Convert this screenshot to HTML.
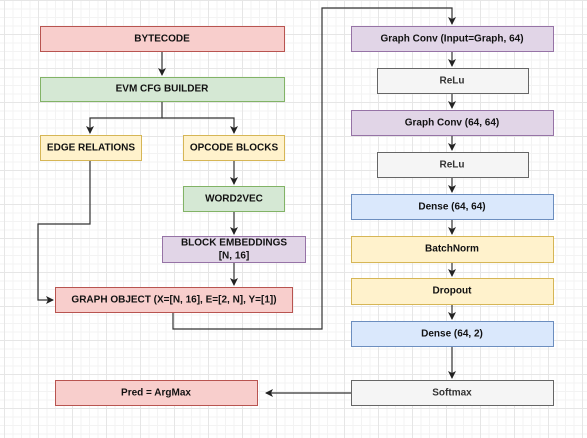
<!DOCTYPE html>
<html><head><style>
html,body{margin:0;padding:0;}
body{width:587px;height:438px;overflow:hidden;background:#fff;
background-image:linear-gradient(#e6e6e6 1px,transparent 1px),linear-gradient(90deg,#e6e6e6 1px,transparent 1px),linear-gradient(#f3f3f3 1px,transparent 1px),linear-gradient(90deg,#f3f3f3 1px,transparent 1px);
background-size:34px 34px,34px 34px,8.5px 8.5px,8.5px 8.5px;background-position:4px 0,4px 0,4px 0,4px 0;}
svg{position:absolute;left:0;top:0}
text{font-family:"Liberation Sans",Arial,sans-serif;font-size:10px;font-weight:bold;fill:#111;text-anchor:middle;dominant-baseline:central}
</style></head><body>
<svg width="587" height="438">
<defs><marker id="a" markerWidth="8" markerHeight="8" refX="7" refY="4" orient="auto" markerUnits="userSpaceOnUse"><path d="M0,0 L8,4 L0,8 L2,4 z" fill="#222"/></marker></defs>
<g stroke="#333" stroke-width="1.2" fill="none">
<path d="M162,51 V75" marker-end="url(#a)"/>
<path d="M162,101 V118 H90 V133" marker-end="url(#a)"/>
<path d="M162,118 H234 V133" marker-end="url(#a)"/>
<path d="M234,160 V184" marker-end="url(#a)"/>
<path d="M234,211 V234" marker-end="url(#a)"/>
<path d="M234,262 V285" marker-end="url(#a)"/>
<path d="M90,160 V224 H38 V300 H53" marker-end="url(#a)"/>
<path d="M173,312 V329 H322 V8 H452 V24" marker-end="url(#a)"/>
<path d="M452,51 V66" marker-end="url(#a)"/>
<path d="M452,93 V108" marker-end="url(#a)"/>
<path d="M452,135 V150" marker-end="url(#a)"/>
<path d="M452,177 V192" marker-end="url(#a)"/>
<path d="M452,219 V234" marker-end="url(#a)"/>
<path d="M452,262 V276" marker-end="url(#a)"/>
<path d="M452,304 V319" marker-end="url(#a)"/>
<path d="M452,346 V378" marker-end="url(#a)"/>
<path d="M351,393 H266" marker-end="url(#a)"/>
</g>
<g stroke-width="1">
<rect x="40.5" y="26.5" width="244" height="25" fill="#f8cecc" stroke="#b85450"/>
<rect x="40.5" y="77.5" width="244" height="24" fill="#d5e8d4" stroke="#82b366"/>
<rect x="40.5" y="135.5" width="101" height="25" fill="#fff2cc" stroke="#d6b656"/>
<rect x="183.5" y="135.5" width="101" height="25" fill="#fff2cc" stroke="#d6b656"/>
<rect x="183.5" y="186.5" width="101" height="25" fill="#d5e8d4" stroke="#82b366"/>
<rect x="162.5" y="236.5" width="143" height="26" fill="#e1d5e7" stroke="#9673a6"/>
<rect x="55.5" y="287.5" width="237" height="25" fill="#f8cecc" stroke="#b85450"/>
<rect x="55.5" y="380.5" width="202" height="25" fill="#f8cecc" stroke="#b85450"/>
<rect x="351.5" y="26.5" width="202" height="25" fill="#e1d5e7" stroke="#9673a6"/>
<rect x="377.5" y="68.5" width="151" height="25" fill="#f5f5f5" stroke="#666"/>
<rect x="351.5" y="110.5" width="202" height="25" fill="#e1d5e7" stroke="#9673a6"/>
<rect x="377.5" y="152.5" width="151" height="25" fill="#f5f5f5" stroke="#666"/>
<rect x="351.5" y="194.5" width="202" height="25" fill="#dae8fc" stroke="#6c8ebf"/>
<rect x="351.5" y="236.5" width="202" height="26" fill="#fff2cc" stroke="#d6b656"/>
<rect x="351.5" y="278.5" width="202" height="26" fill="#fff2cc" stroke="#d6b656"/>
<rect x="351.5" y="321.5" width="202" height="25" fill="#dae8fc" stroke="#6c8ebf"/>
<rect x="351.5" y="380.5" width="202" height="25" fill="#f5f5f5" stroke="#666"/>
</g>
<text x="162" y="39">BYTECODE</text>
<text x="162" y="89">EVM CFG BUILDER</text>
<text x="91" y="148">EDGE RELATIONS</text>
<text x="234" y="148">OPCODE BLOCKS</text>
<text x="234" y="199">WORD2VEC</text>
<text x="234" y="243">BLOCK EMBEDDINGS</text>
<text x="234" y="256">[N, 16]</text>
<text x="174" y="300">GRAPH OBJECT (X=[N, 16], E=[2, N], Y=[1])</text>
<text x="156" y="393">Pred = ArgMax</text>
<text x="452" y="39">Graph Conv (Input=Graph, 64)</text>
<text x="452" y="81" style="fill:#333">ReLu</text>
<text x="452" y="123">Graph Conv (64, 64)</text>
<text x="452" y="165" style="fill:#333">ReLu</text>
<text x="452" y="207">Dense (64, 64)</text>
<text x="452" y="249">BatchNorm</text>
<text x="452" y="291">Dropout</text>
<text x="452" y="334">Dense (64, 2)</text>
<text x="452" y="393" style="fill:#333">Softmax</text>
</svg>
</body></html>
